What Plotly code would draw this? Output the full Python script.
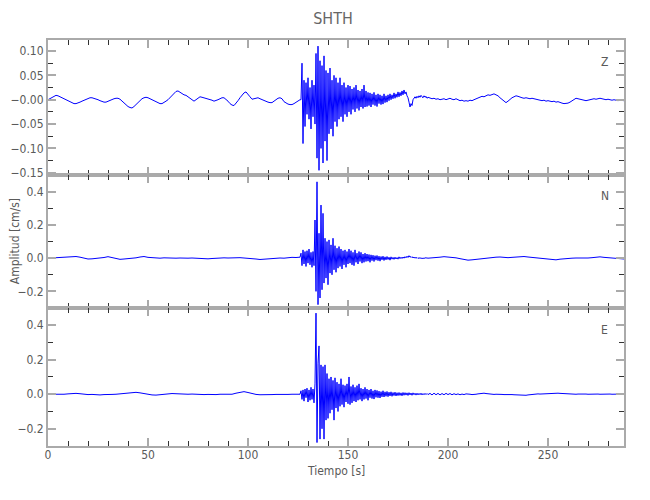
import numpy as np
import plotly.graph_objects as go
from plotly.subplots import make_subplots

# ---------------- data (values in 1e-3 cm/s) ----------------
PRE_START, BURST_START = 0.0, 126.5

# Z component
z_pre = [0, 2, 5, 7, 9, 8, 6, 5, 3, 1, -1, -3, -6, -8, -8, -7, -5, -3, -1, 1,
         3, 4, 4, 3, 2, 0, -2, -4, -5, -5, -3, -2, 0, 2, 3, 3, 1, -3, -7, -11,
         -14, -16, -17, -14, -10, -5, -1, 2, 4, 5, 4, 2, 0, -2, -4, -6, -8, -8, -6, -3,
         0, 4, 9, 14, 17, 18, 15, 12, 10, 9, 6, 3, 0, -3, 0, 4, 6, 5, 4, 3,
         2, 1, -1, -3, -2, 0, 2, 4, 4, 1, -3, -8, -11, -12, -8, -2, 4, 10, 14, 16,
         12, 6, 1, 2, 4, 4, 2, 0, -2, -4, -5, -6, -6, -3, 0, 3, 4, 2, -4, -7,
         -9, -10, -10, -8, -5, -2, 0]
z_burst = [0, 75, -90, 40, -55, 35, -30, 45, -40, 25, -60, 40, -35, 30, -50, 95,
           -120, 110, -145, 80, -100, 70, -130, 90, -85, 60, -125, 55, -70, 65, -60, 40,
           -75, 50, -45, 45, -55, 35, -40, 45, -35, 30, -45, 35, -30, 25, -35, 30,
           -25, 28, -30, 22, -20, 25, -25, 30, -18, 20, -22, 18, -15, 22, -18, 30,
           -15, 18, -14, 15, -12, 14, -15, 12, -10, 15, -12, 10, -14, 12, -8, 10,
           -10, 8, -9, 12, -6, 8, -5, 10, -2, 12, 0, 10, 2, 14, 3, 12,
           5, 16, 6, 15, 8, 18, 10, 20, 12, 16, 8, 4, -5, -15, -8, -12,
           0, 2, 6, 3, 7, 4, 8, 5, 9, 6, 4, 8, 5, 7, 3, 5]
z_post = [4, 2, 3, 1, 2, 0, 1, 2, 0, 1, 3, 1, 0, 2, 0, -2, -1, -3, -2, -3,
          -1, -2, 0, 2, 4, 5, 7, 6, 8, 10, 9, 11, 12, 10, 8, 4, 0, -4, -6, -3,
          1, 4, 6, 8, 7, 5, 4, 3, 4, 3, 2, 3, 2, 1, 0, -1, -2, -1, -3, -2,
          -3, -4, -3, -5, -4, -6, -7, -8, -8, -7, -5, -2, 1, 3, 2, 1, 0, -1, -2, -1,
          0, 1, 2, 1, 2, 3, 2, 1, 0, 1, 0, -1, 0, -1, -2, -1, -2, -2]

# N component
n_pre = [0, 1, 1, 2, 3, 5, 8, 10, 6, 0, -5, -4, -2, 0, 4, 9, 3, -4, -7, -5,
         -3, -2, 2, 7, 10, 5, 2, 1, 0, 2, 0, 1, 0, 1, -1, 0, 1, -1, -3, -5,
         -4, -2, 0, 1, 2, 1, 3, 2, 3, 1, 0, -2, -5, -8, -6, -3, -1, 2, 1, 0,
         3, 5, 4, 6]
n_burst = [30, -45, 50, -35, 40, -50, 45, -30, 55, -40, 35, -55, 40, -45, 230, -200,
           460, -280, 150, -240, 320, -190, 270, -150, 120, -120, 100, -160, 110, -90, 80, -100,
           120, -70, 75, -85, 60, -60, 70, -50, 55, -65, 45, -40, 50, -55, 40, -35,
           55, -30, 45, -40, 35, -45, 50, -25, 30, -35, 40, -20, 35, -30, 25, -25,
           30, -20, 25, -18, 22, -25, 20, -15, 18, -20, 15, -12, 16, -15, 12, -18,
           10, -10, 12, -14, 8, -10, 10, -8, 6, -12, 8, -6, 5, -7, 6, -5,
           4, -6, 8, -3, 6, -2, 7, 0, 9, 2, 12, 4, 15, 6, 10, 3,
           8, 1, 5, 0, 4, -2, 3, -1, 2, -3, 1, -2, 2, -1, 1, 0]
n_post = [1, 3, 6, 9, 8, 5, 2, -3, -8, -12, -10, -7, -3, -1, 2, 4, 6, 7, 4, 3,
          5, 7, 8, 10, 7, 4, 1, 0, -2, -5, -9, -10, -6, -3, -1, 0, 1, 0, 2, 1,
          3, 6, 8, 5, 2, 1, 0, -3, -5]

# E component
e_pre = [0, -1, 0, 1, 0, 2, 4, 5, 3, 0, -2, -1, -3, -4, -2, -3, -1, 0, 2, 4,
         6, 10, 11, 8, 3, -1, -4, -5, -2, 0, 2, 4, 3, 1, 2, 0, 1, -1, 0, -2,
         -1, -3, -2, 0, -1, 1, 0, 6, 12, 15, 10, 4, -1, -3, -4, -3, -2, -1, -2, 0,
         -1, 0, 1, 0]
e_burst = [20, -30, 25, -40, 30, -20, 35, -45, 25, -35, 40, -30, 30, -50, 60, 470,
           -280, 180, 280, -260, 170, -200, 160, -260, 170, -150, 120, -140, 90, -110, 100, -90,
           80, -150, 95, -80, 70, -100, 60, -70, 90, -60, 55, -75, 50, -45, 60, -55,
           100, -60, 45, -50, 55, -40, 40, -45, 50, -35, 60, -30, 35, -40, 30, -30,
           40, -25, 30, -35, 25, -20, 30, -25, 20, -28, 25, -18, 22, -20, 18, -22,
           15, -15, 20, -16, 14, -12, 16, -14, 12, -10, 14, -12, 10, -8, 12, -10,
           9, -8, 10, -7, 8, -9, 10, -6, 9, -5, 8, -7, 9, -4, 7, -6,
           8, -3, 6, -5, 6, -4, 5, -3, 6, -4, 4, -3, 5, -2, 4, -2]
e_post = [5, -4, 6, -3, 5, -4, 4, -3, 5, -2, 4, -3, 3, -2, 2, -3, 1, -2, 2, -1,
          0, -2, 1, 0, 2, 4, 5, 6, 4, 2, 1, 0, -1, 0, 1, 0, -1, -2, -1, -2,
          -3, -2, -3, -4, -3, -5, -6, -5, -6, -4, -2, -1, 0, 1, 2, 1, 2, 3, 2, 3,
          4, 5, 4, 5, 6, 5, 4, 2, 1, 0, 1, 2, 1, 0, 1, 2, 3, 2, 1, 0,
          1, 0, 1, 2, 1, 0, 1, 0, -1, 0, 1, 0, 1, 0, -1, 0, 1, 0]

components = ["Z", "N", "E"]
title_text = "SHTH"
x_title = "Tiempo [s]"
y_title = "Amplitud [cm/s]"


def build(pre, pre_dt, burst, post, post_dt):
    t_pre = PRE_START + pre_dt * np.arange(len(pre))
    t_burst = BURST_START + 0.5 * np.arange(len(burst))
    post_start = t_burst[-1] + post_dt
    t_post = post_start + post_dt * np.arange(len(post))
    t = np.concatenate([t_pre, t_burst, t_post])
    v = np.concatenate([pre, burst, post]) * 1e-3
    return t, v


series = {
    "Z": build(z_pre, 1.0, z_burst, z_post, 1.0),
    "N": build(n_pre, 2.0, n_burst, n_post, 2.0),
    "E": build(e_pre, 2.0, e_burst, e_post, 1.0),
}

# ---------------- figure ----------------
FONT = "DejaVu Sans Condensed, Liberation Sans Narrow, Arial Narrow, sans-serif"
TXT = "#5a5a5a"
FRAME = "#aaaaaa"

fig = make_subplots(rows=3, cols=1, shared_xaxes=True, vertical_spacing=0)

for i, c in enumerate(components, start=1):
    t, v = series[c]
    fig.add_trace(go.Scatter(x=t, y=v, mode="lines",
                             line=dict(color="#0000ff", width=1),
                             showlegend=False, hoverinfo="skip"), row=i, col=1)

domains = {1: [0.667, 1.0], 2: [0.340, 0.667], 3: [0.0, 0.340]}

axis_common = dict(showline=True, linecolor=FRAME, linewidth=2, mirror="ticks",
                   ticks="inside", ticklen=8, tickwidth=1.5, tickcolor=FRAME,
                   showgrid=False, zeroline=False, automargin=False,
                   tickfont=dict(family=FONT, size=12, color=TXT))

for i in range(1, 4):
    fig.update_xaxes(range=[0, 288], tickmode="linear", tick0=0, dtick=50,
                     minor=dict(ticks="inside", ticklen=5, tickcolor="#333333",
                                tickwidth=1, dtick=10, tick0=0, showgrid=False),
                     ticklabelstandoff=-3,
                     showticklabels=(i == 3), row=i, col=1, **axis_common)

fig.update_yaxes(range=[-0.155, 0.1226], tickmode="array",
                 tickvals=[0.10, 0.05, 0.0, -0.05, -0.10, -0.15],
                 ticktext=["0.10", "0.05", "\u22120.00", "\u22120.05", "\u22120.10", "\u22120.15"],
                 minor=dict(ticks="inside", ticklen=5, tickcolor="#333333", tickwidth=1,
                            tickmode="array", tickvals=[0.075, 0.025, -0.025, -0.075, -0.125]),
                 domain=domains[1], row=1, col=1, **axis_common)
for i in (2, 3):
    fig.update_yaxes(range=[-0.3, 0.5], tickmode="array",
                     tickvals=[0.4, 0.2, 0.0, -0.2],
                     ticktext=["0.4", "0.2", "0.0", "\u22120.2"],
                     minor=dict(ticks="inside", ticklen=5, tickcolor="#333333", tickwidth=1,
                                tickmode="array", tickvals=[0.3, 0.1, -0.1]),
                     domain=domains[i], row=i, col=1, **axis_common)

for i, c in enumerate(components, start=1):
    ya = "y" if i == 1 else f"y{i}"
    xa = "x" if i == 1 else f"x{i}"
    fig.add_annotation(text=c, xref=f"{xa} domain", yref=f"{ya} domain",
                       x=0.967, y=0.84, showarrow=False, xanchor="center", yanchor="middle",
                       font=dict(family=FONT, size=12, color=TXT))

fig.add_annotation(text=y_title, xref="paper", yref="paper", x=-0.058, y=0.5035,
                   textangle=-90, showarrow=False, xanchor="center", yanchor="middle",
                   font=dict(family=FONT, size=12, color=TXT))
fig.add_annotation(text=x_title, xref="paper", yref="paper", x=0.5, y=-0.062,
                   showarrow=False, xanchor="center", yanchor="middle",
                   font=dict(family=FONT, size=12, color=TXT))

# the page adds an 8 px offset around the figure; margins compensate for it
fig.update_layout(
    width=650, height=500,
    margin=dict(l=40, r=34, t=32, b=62, autoexpand=False),
    paper_bgcolor="white", plot_bgcolor="white",
    title=dict(text=title_text, x=0.5, xanchor="center", y=0.98, yanchor="middle",
               font=dict(family=FONT, size=16, color="#666666")),
)

fig.write_html("out.html")
